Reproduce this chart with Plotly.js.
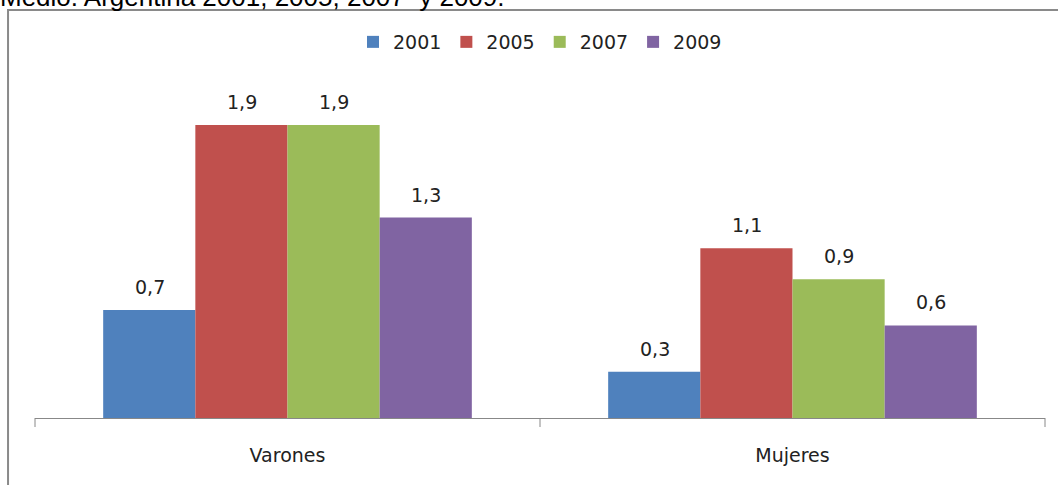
<!DOCTYPE html>
<html><head><meta charset="utf-8">
<script src="https://cdn.plot.ly/plotly-3.0.1.min.js"></script>
<style>html,body{margin:0;padding:0;background:#fff;}#chart{width:1058px;height:485px;}</style>
</head><body><div id="chart"></div>
<script>
const categories = ["Varones", "Mujeres"];
const years = ["2001", "2005", "2007", "2009"];
const v2001 = [0.7, 0.3];
const v2005 = [1.9, 1.1];
const v2007 = [1.9, 0.9];
const v2009 = [1.3, 0.6];
const colors = ["#4F81BD", "#C0504D", "#9BBB59", "#8064A2"];
const series = [v2001, v2005, v2007, v2009];
const captionText = "Medio. Argentina 2001, 2005, 2007  y 2009.";

const font = "'DejaVu Sans', sans-serif";
const traces = series.map((vals, i) => ({
  type: "bar", name: years[i], x: categories, y: vals,
  marker: {color: colors[i]},
  hoverinfo: "none"
}));

const barPx = 92;
const annotations = [];
series.forEach((vals, i) => {
  vals.forEach((v, j) => {
    annotations.push({
      x: categories[j], y: v, xref: "x", yref: "y",
      text: v.toFixed(1).replace(".", ","),
      showarrow: false, xshift: (i - 1.5) * barPx, yshift: 23,
      font: {family: font, size: 19, color: "#222"}
    });
  });
});
annotations.push({
  xref: "paper", yref: "paper", x: -0.037, y: 1.0978, xanchor: "left", yanchor: "bottom",
  text: captionText, showarrow: false,
  font: {family: "'Liberation Sans', Arial, sans-serif", size: 26, color: "#000"}
});

const layout = {
  width: 1058, height: 485,
  margin: {l: 35, r: 13, t: 50, b: 67, autoexpand: false},
  paper_bgcolor: "#fff", plot_bgcolor: "#fff",
  barmode: "group", bargap: 0.27, bargroupgap: 0,
  separators: ",.",
  showlegend: true,
  legend: {orientation: "h", x: 0.5, xanchor: "center", y: 1.0217, yanchor: "middle",
           font: {family: font, size: 19, color: "#222"}, itemwidth: 30, traceorder: "normal"},
  xaxis: {type: "category", showline: true, linecolor: "#888", linewidth: 1,
          ticks: "", showgrid: false, zeroline: false,
          tickfont: {family: font, size: 19, color: "#222"}, ticklabelstandoff: 20},
  yaxis: {range: [0, 2.386], visible: false, fixedrange: true},
  annotations: annotations,
  shapes: [
    {type: "rect", xref: "paper", yref: "paper", x0: -0.0267, x1: 1.2, y0: -0.3, y1: 1.1087,
     line: {color: "#8a8a8a", width: 2}, fillcolor: "rgba(0,0,0,0)", layer: "below"},
    {type: "line", xref: "paper", yref: "paper", x0: 0, x1: 0, y0: 0, y1: -0.0245, line: {color: "#888", width: 1}},
    {type: "line", xref: "paper", yref: "paper", x0: 0.5, x1: 0.5, y0: 0, y1: -0.0245, line: {color: "#888", width: 1}},
    {type: "line", xref: "paper", yref: "paper", x0: 1, x1: 1, y0: 0, y1: -0.0245, line: {color: "#888", width: 1}}
  ]
};
Plotly.newPlot("chart", traces, layout, {displayModeBar: false, staticPlot: true});
</script></body></html>
